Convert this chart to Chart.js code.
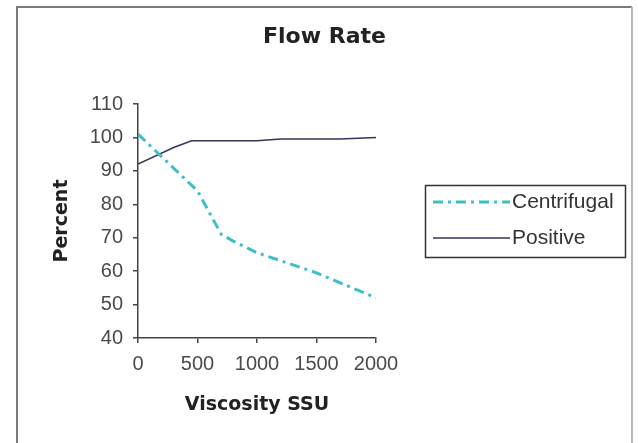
<!DOCTYPE html>
<html>
<head>
<meta charset="utf-8">
<script src="https://cdn.jsdelivr.net/npm/chart.js@4/dist/chart.umd.min.js"></script>
<style>
  html, body { margin: 0; padding: 0; background: #fff; }
  #wrap { position: relative; width: 638px; height: 443px; }
</style>
</head>
<body>
<div id="wrap"><canvas id="c" width="638" height="443"></canvas></div>
<script>
const chartTitle = 'Flow Rate';
const xAxisTitle = 'Viscosity SSU';
const yAxisTitle = 'Percent';
const seriesNames = ['Centrifugal', 'Positive'];

const centrifugalX = [0, 500, 700, 800, 1000, 1500, 2000];
const centrifugalY = [101, 84, 71, 69, 65.5, 59.5, 52];

const positiveX = [0, 300, 450, 1000, 1200, 1700, 2000];
const positiveY = [92, 97, 99, 99, 99.5, 99.5, 100];

const xTicks = [0, 500, 1000, 1500, 2000];
const yTicks = [40, 50, 60, 70, 80, 90, 100, 110];

const toPoints = (xs, ys) => xs.map((x, i) => ({ x: x, y: ys[i] }));

const FONT = "'Liberation Sans', Arial, sans-serif";
const BOLD = "'DejaVu Sans', Verdana, sans-serif";

const framePlugin = {
  id: 'frame',
  beforeDraw(chart) {
    const ctx = chart.ctx;
    ctx.save();
    ctx.fillStyle = '#fff';
    ctx.fillRect(0, 0, chart.width, chart.height);
    ctx.strokeStyle = '#7a7a7a';
    ctx.lineWidth = 2;
    ctx.beginPath();
    ctx.moveTo(17, 460);
    ctx.lineTo(17, 7);
    ctx.lineTo(632, 7);
    ctx.stroke();
    ctx.strokeStyle = '#b8b8b8';
    ctx.beginPath();
    ctx.moveTo(632, 7);
    ctx.lineTo(632, 460);
    ctx.stroke();
    ctx.restore();
  }
};

const legendBoxPlugin = {
  id: 'legendBox',
  afterDraw(chart) {
    const ctx = chart.ctx;
    const ds = chart.data.datasets;
    const box = { x: 425, y: 185, w: 200, h: 72 };
    ctx.save();
    ctx.strokeStyle = '#333';
    ctx.lineWidth = 1.5;
    ctx.strokeRect(box.x + 0.5, box.y + 0.5, box.w, box.h);
    const rows = [202, 238];
    ds.forEach((d, i) => {
      const y = rows[i];
      ctx.beginPath();
      ctx.setLineDash(d.borderDash || []);
      ctx.strokeStyle = d.borderColor;
      ctx.lineWidth = d.borderWidth;
      ctx.moveTo(433, y);
      ctx.lineTo(510, y);
      ctx.stroke();
      ctx.setLineDash([]);
      ctx.fillStyle = '#333';
      ctx.font = "21px " + FONT;
      ctx.textBaseline = 'middle';
      ctx.textAlign = 'left';
      ctx.fillText(d.label, 512, y);
    });
    ctx.restore();
  }
};

new Chart(document.getElementById('c'), {
  type: 'line',
  data: {
    datasets: [
      {
        label: seriesNames[0],
        data: toPoints(centrifugalX, centrifugalY),
        borderColor: '#3cbfc6',
        borderWidth: 3,
        borderDash: [10, 5, 3, 5],
        pointRadius: 0,
        fill: false,
        tension: 0
      },
      {
        label: seriesNames[1],
        data: toPoints(positiveX, positiveY),
        borderColor: '#35355a',
        borderWidth: 1.5,
        pointRadius: 0,
        fill: false,
        tension: 0
      }
    ]
  },
  options: {
    responsive: false,
    animation: false,
    devicePixelRatio: 1,
    layout: { padding: { top: 10, left: 17, right: 6, bottom: 0 } },
    plugins: {
      legend: { display: false },
      tooltip: { enabled: false },
      title: {
        display: true,
        text: chartTitle,
        color: '#222',
        font: { family: BOLD, size: 22, weight: 'bold', lineHeight: 1.2 },
        padding: { top: 13.8, bottom: 53.8 }
      }
    },
    scales: {
      x: {
        type: 'linear',
        min: 0,
        max: 2000,
        afterFit(s) { s.height = 105; },
        afterBuildTicks(s) { s.ticks = xTicks.map(v => ({ value: v })); },
        border: { color: '#444', width: 1.5 },
        grid: { drawOnChartArea: false, drawTicks: true, tickLength: 5, color: '#444', lineWidth: 1.5 },
        ticks: { color: '#4a4a4a', font: { family: FONT, size: 20 }, padding: 9, maxRotation: 0, callback: v => String(v) },
        title: {
          display: true,
          text: xAxisTitle,
          color: '#222',
          font: { family: BOLD, size: 19, weight: 'bold', lineHeight: 1.2 },
          padding: { top: 0, bottom: 26.6 }
        }
      },
      y: {
        type: 'linear',
        min: 40,
        max: 110,
        afterFit(s) { s.width = 121; },
        afterBuildTicks(s) { s.ticks = yTicks.map(v => ({ value: v })); },
        border: { color: '#444', width: 1.5 },
        grid: { drawOnChartArea: false, drawTicks: true, tickLength: 5, color: '#444', lineWidth: 1.5 },
        ticks: { color: '#4a4a4a', font: { family: FONT, size: 20 }, padding: 10, callback: v => String(v) },
        title: {
          display: true,
          text: yAxisTitle,
          color: '#222',
          font: { family: BOLD, size: 19, weight: 'bold', lineHeight: 1.2 },
          padding: { top: 34, bottom: 0 }
        }
      },
      yLegendSpace: {
        type: 'linear',
        position: 'right',
        min: 0,
        max: 1,
        afterFit(s) { s.width = 256; },
        grid: { display: false, drawTicks: false },
        border: { display: false },
        ticks: { display: false },
        title: { display: false }
      }
    }
  },
  plugins: [framePlugin, legendBoxPlugin]
});
</script>
</body>
</html>
